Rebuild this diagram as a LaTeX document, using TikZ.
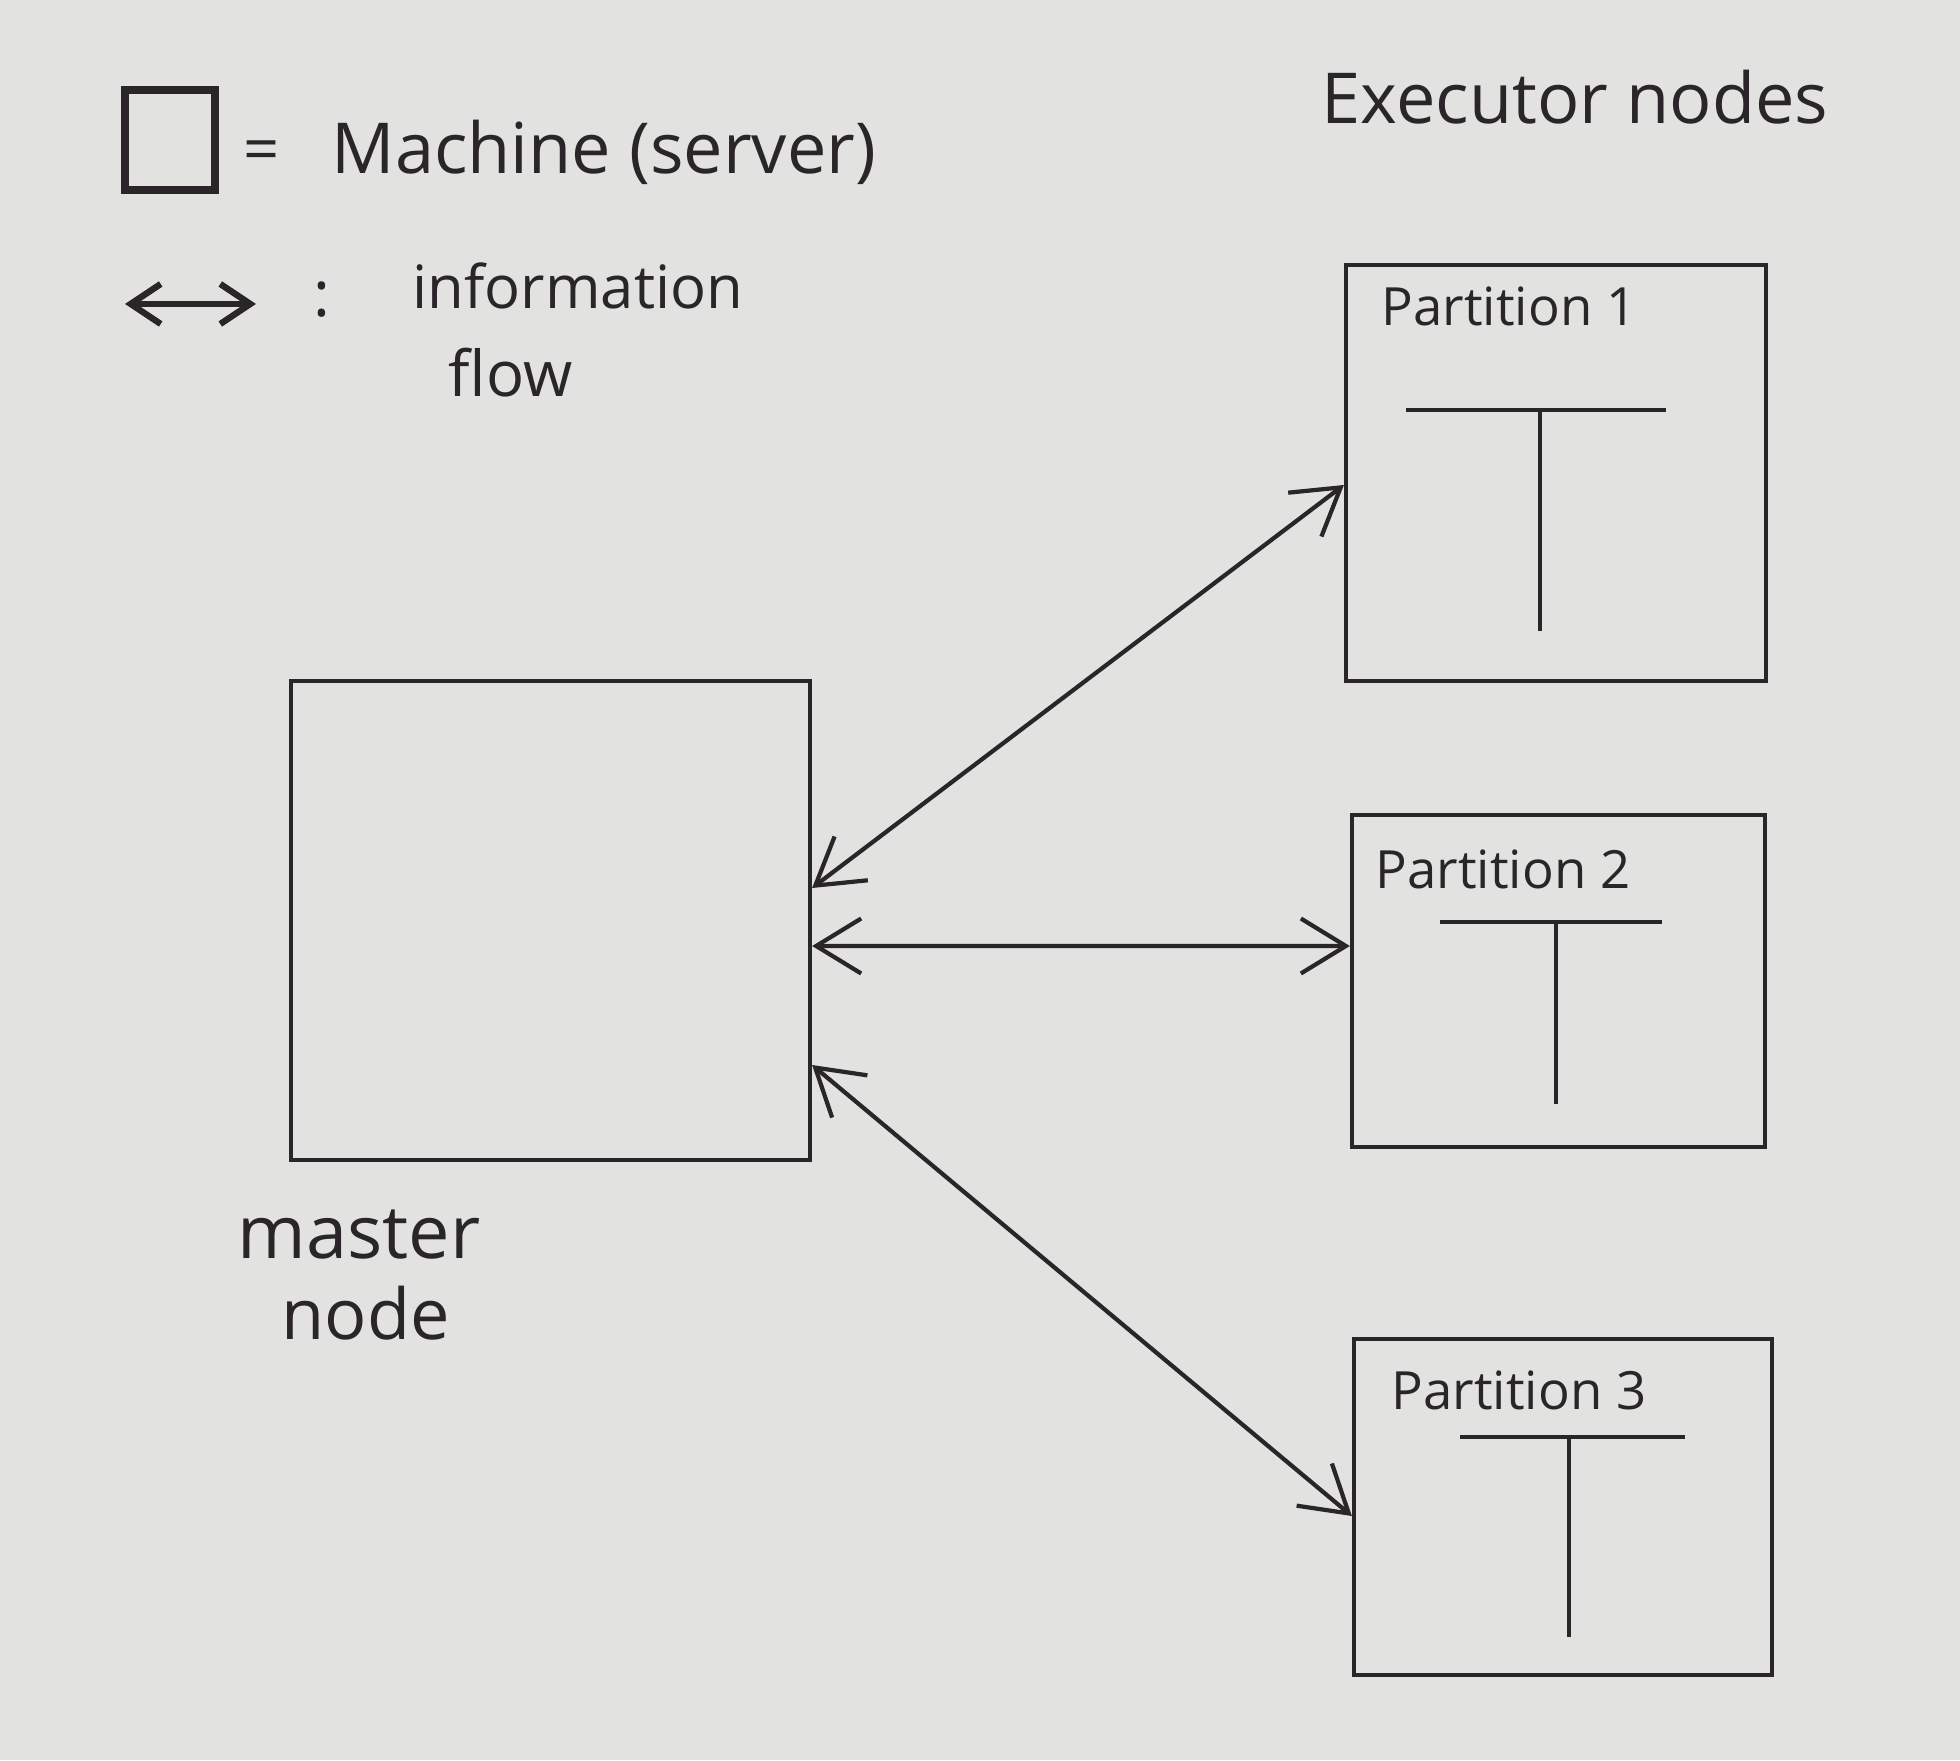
\documentclass[tikz,border=0pt]{standalone}
\usepackage{fontspec}
\setmainfont{Open Sans}
\usepackage{xcolor}
\usepackage{tikz}
\usetikzlibrary{arrows.meta}

\definecolor{paper}{RGB}{226,226,224}
\definecolor{pen}{RGB}{42,37,40}

\begin{document}
\begin{tikzpicture}[
	machine/.style={draw=pen,line width=1.2pt,rectangle,inner sep=0pt},
	flow/.style={pen,line width=1.2pt,{Straight Barb[length=4.5mm,width=5.5mm]}-{Straight Barb[length=4.5mm,width=5.5mm]}},
	hand/.style={text=pen,inner sep=0pt,font=\fontsize{18}{20}\selectfont},
	plabel/.style={text=pen,inner sep=0pt,anchor=west,font=\fontsize{15}{17}\selectfont},
	tbar/.style={pen,line width=1.4pt}
]
	\fill[paper] (0,0) rectangle (19.6,17.6);

	% legend
	\node[machine,line width=2pt,minimum width=0.9cm,minimum height=1cm] (legbox) at (1.7,16.2) {};
	\node[hand] (legeq) at (2.62,16.04) {=};
	\node[hand,anchor=west,font=\fontsize{20}{22}\selectfont] (legmachine) at (3.31,16.08) {Machine (server)};
	\coordinate (legl) at (1.25,14.56);
	\coordinate (legr) at (2.56,14.56);
	\draw[flow,line width=1.8pt,{Straight Barb[length=3mm,width=4mm]}-{Straight Barb[length=3mm,width=4mm]}] (legl) -- (legr);
	\node[hand] (legcolon) at (3.22,14.6) {:};
	\node[hand,anchor=west,font=\fontsize{17}{19}\selectfont] (leginfo) at (4.12,14.74) {information};
	\node[hand,anchor=west] (legflow) at (4.48,13.87) {flow};

	\node[hand,font=\fontsize{20}{22}\selectfont] (exec) at (15.75,16.63) {Executor nodes};

	% master node
	\node[machine,minimum width=5.19cm,minimum height=4.79cm] (master) at (5.505,8.395) {};
	\node[hand,anchor=west,font=\fontsize{21}{23}\selectfont] (mastertxt) at (2.37,5.25) {master};
	\node[hand,anchor=west,font=\fontsize{20}{22}\selectfont] (nodetxt) at (2.81,4.47) {node};

	% executor nodes
	\node[machine,minimum width=4.2cm,minimum height=4.16cm] (p1) at (15.56,12.87) {};
	\node[plabel] (p1lbl) at (13.81,14.54) {Partition 1};
	\draw[tbar] (14.06,13.50) -- (16.66,13.50);
	\draw[tbar] (15.40,13.50) -- (15.40,11.29);

	\node[machine,minimum width=4.13cm,minimum height=3.32cm] (p2) at (15.585,7.79) {};
	\node[plabel] (p2lbl) at (13.75,8.91) {Partition 2};
	\draw[tbar] (14.40,8.38) -- (16.62,8.38);
	\draw[tbar] (15.56,8.38) -- (15.56,6.56);

	\node[machine,minimum width=4.18cm,minimum height=3.36cm] (p3) at (15.63,2.53) {};
	\node[plabel] (p3lbl) at (13.91,3.70) {Partition 3};
	\draw[tbar] (14.60,3.23) -- (16.85,3.23);
	\draw[tbar] (15.69,3.23) -- (15.69,1.23);

	% information flow
	\draw[flow] ([yshift=3.25mm]master.east) -- ([yshift=-1.2mm]p1.west);
	\draw[flow] ([yshift=-2.55mm]master.east) -- ([yshift=3.5mm]p2.west);
	\draw[flow] ([yshift=-14.45mm]master.east) -- ([yshift=-0.9mm]p3.west);

\end{tikzpicture}
\end{document}
